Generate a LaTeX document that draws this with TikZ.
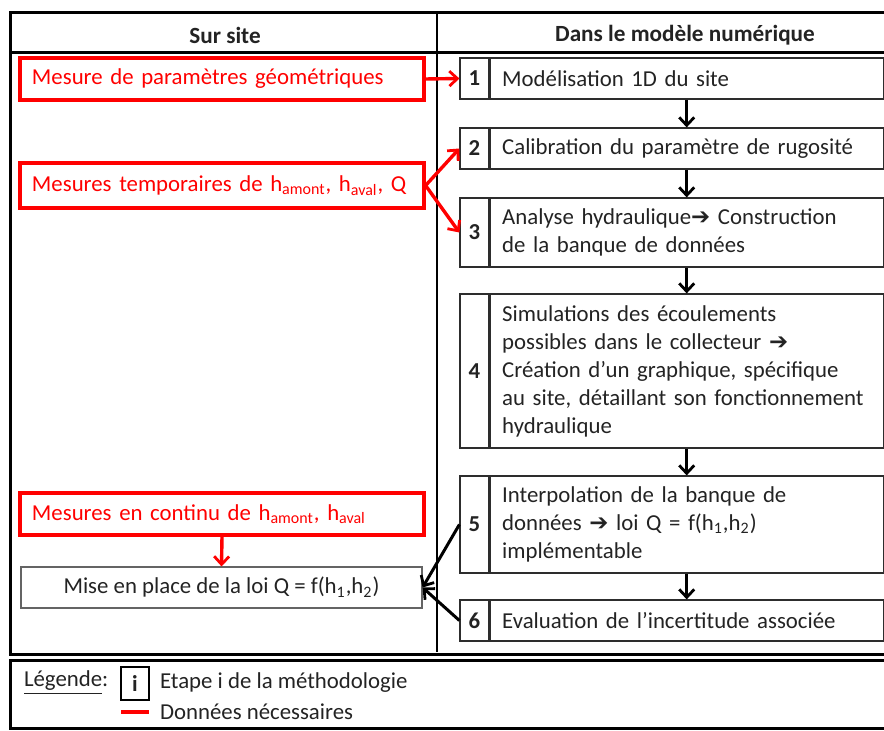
\documentclass[tikz,border=0pt]{standalone}
\usepackage{fontspec}
\setmainfont{Carlito}
\newfontfamily\arrowfont{DejaVu Sans}
\usetikzlibrary{positioning, arrows.meta}
\definecolor{DataRed}{RGB}{255,0,0}
\definecolor{BoxGray}{RGB}{45,45,45}
\definecolor{TextGray}{RGB}{35,35,35}
\definecolor{LawGray}{RGB}{100,100,100}
\newcommand{\heavyarrow}{{\arrowfont\bfseries ➔}}

\begin{document}
\begin{tikzpicture}[x=0.5pt, y=-0.5pt,
    every node/.style={font=\fontsize{11.4pt}{14pt}\selectfont, text=TextGray},
    numbox/.style={draw=BoxGray, line width=0.6pt, minimum width=14.5pt, inner sep=0pt,
      font=\fontsize{11.4pt}{14pt}\selectfont\bfseries},
    stepbox/.style={draw=BoxGray, line width=0.6pt, text width=184.5pt, inner xsep=6pt,
      inner ysep=0pt, align=left},
    databox/.style={draw=DataRed, line width=1.6pt, text=DataRed, text width=190pt,
      inner xsep=6pt, inner ysep=0pt, align=left},
    flow/.style={-{Straight Barb[length=4pt,width=7.5pt,line width=1.4pt]}, line width=1.5pt},
    dataflow/.style={flow, draw=DataRed, line width=1.7pt}]
  \useasboundingbox (0,0) rectangle (884,731);

  % frame and columns
  \draw[line width=1.5pt] (886,13) -- (10,13) -- (10,655) -- (886,655);
  \draw[line width=1.5pt] (10,53) -- (886,53);
  \draw[line width=0.6pt] (437,13) -- (437,652);
  \node[font=\fontsize{11.6pt}{14pt}\selectfont\bfseries] (hsite) at (225,35) {Sur site};
  \node[font=\fontsize{11.6pt}{14pt}\selectfont\bfseries] (hmodel) at (685,35) {Dans le modèle numérique};

  % steps of the model
  \node[numbox, minimum height=20.5pt] (n1) at (474.5,78.5) {1};
  \node[stepbox, minimum height=20.5pt, right=0pt of n1] (s1) {Modélisation 1D du site};
  \node[numbox, minimum height=20.5pt] (n2) at (474.5,148.5) {2};
  \node[stepbox, minimum height=20.5pt, right=0pt of n2] (s2) {Calibration du paramètre de rugosité};
  \node[numbox, minimum height=34.5pt] (n3) at (474.5,232.5) {3};
  \node[stepbox, minimum height=34.5pt, right=0pt of n3] (s3)
    {Analyse hydraulique\heavyarrow{} Construction\\de la banque de données};
  \node[numbox, minimum height=77pt] (n4) at (474.5,371) {4};
  \node[stepbox, minimum height=77pt, right=0pt of n4] (s4)
    {Simulations des écoulements\\possibles dans le collecteur \heavyarrow\\Création d’un graphique, spécifique\\au site, détaillant son fonctionnement\\hydraulique};
  \node[numbox, minimum height=48.5pt] (n5) at (474.5,524.5) {5};
  \node[stepbox, minimum height=48.5pt, right=0pt of n5] (s5)
    {Interpolation de la banque de\\données \heavyarrow{} loi Q = f(h\textsubscript{1},h\textsubscript{2})\\implémentable};
  \node[numbox, minimum height=20.5pt] (n6) at (474.5,620.5) {6};
  \node[stepbox, minimum height=20.5pt, right=0pt of n6] (s6) {Evaluation de l’incertitude associée};

  \foreach \a/\b in {s1/s2, s2/s3, s3/s4, s4/s5, s5/s6}
    \draw[flow] (\a.south) -- (\b.north);

  % data on site
  \node[databox, minimum height=21pt] (geo) at (222,79) {Mesure de paramètres géométriques};
  \node[databox, minimum height=22.5pt] (temp) at (222,185.5)
    {Mesures temporaires de h\textsubscript{amont}, h\textsubscript{aval}, Q};
  \node[databox, minimum height=21pt] (cont) at (222,514)
    {Mesures en continu de h\textsubscript{amont}, h\textsubscript{aval}};
  \node[draw=LawGray, line width=0.6pt, minimum width=200.5pt, minimum height=20.5pt] (law) at (221.5,587.5)
    {Mise en place de la loi Q = f(h\textsubscript{1},h\textsubscript{2})};

  \draw[dataflow] (geo.east) -- (n1.west);
  \draw[dataflow] (temp.east) -- (n2.west);
  \draw[dataflow] (temp.east) -- (n3.west);
  \draw[dataflow] (cont.south) -- (law.north);
  \draw[flow] (n5.west) -- (law.east);
  \draw[flow] (n6.west) -- (law.east);

  % legend
  \draw[line width=1.5pt] (886,661) -- (10,661) -- (10,729) -- (886,729);
  \node[anchor=west] (leg) at (17,683) {\underline{Légende}:};
  \node[draw=black, line width=0.6pt, minimum width=14pt, minimum height=16.5pt, inner sep=0pt,
    font=\fontsize{11.4pt}{14pt}\selectfont\bfseries] (legi) at (135,683.5) {i};
  \node[anchor=west] (legstep) at (153,683) {Etape i de la méthodologie};
  \coordinate (lr1) at (121,712);
  \coordinate (lr2) at (149,712);
  \draw[DataRed, line width=1.8pt] (lr1) -- (lr2);
  \node[anchor=west] (legdata) at (legstep.west |- lr1) {Données nécessaires};
\end{tikzpicture}
\end{document}
